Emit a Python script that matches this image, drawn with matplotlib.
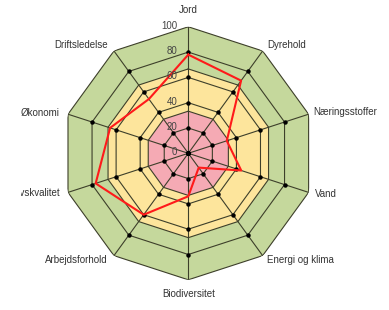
import numpy as np
import matplotlib
matplotlib.use("Agg")
import matplotlib.pyplot as plt
from matplotlib.transforms import Bbox, TransformedBbox

categories = ["Jord", "Dyrehold", "Næringsstoffer", "Vand", "Energi og klima",
              "Biodiversitet", "Arbejdsforhold", "Livskvalitet", "Økonomi", "Driftsledelse"]
values = [78, 71, 32, 44, 14, 34, 60, 77, 65, 53]
band_levels = [100, 66.7, 33.3]
band_colors = ["#c5d89c", "#fde59c", "#f5aab4"]
ring_levels = [20, 33.3, 40, 60, 66.7, 80, 100]
dot_levels = [0, 20, 40, 60, 80]
tick_values = [0, 20, 40, 60, 80, 100]

plt.rcParams['font.family'] = ['Liberation Sans', 'DejaVu Sans']

W, H = 389, 310
fig = plt.figure(figsize=(W / 100, H / 100), dpi=100)
cx, cy, R = 188.3, 153.3, 126.5
ax = fig.add_axes([(cx - R) / W, (H - cy - R) / H, 2 * R / W, 2 * R / H], projection='polar')
ax.set_theta_offset(np.pi / 2)
ax.set_theta_direction(-1)
ax.set_ylim(0, 100)
ax.grid(False)
ax.set_xticks([])
ax.set_yticks([])
ax.spines['polar'].set_visible(False)
ax.patch.set_alpha(0)

n = len(categories)
theta = np.arange(n) * 2 * np.pi / n
tc = np.append(theta, theta[0])

line_col = "#3d3f2a"
for lev, col in zip(band_levels, band_colors):
    ax.fill(tc, [lev] * (n + 1), color=col, zorder=1, lw=0)
for lev in ring_levels:
    ax.plot(tc, [lev] * (n + 1), color=line_col, lw=0.8, zorder=2)
for t in theta:
    ax.plot([t, t], [0, 100], color=line_col, lw=0.8, zorder=2)
for lev in dot_levels:
    ax.plot(theta, [lev] * n, 'o', color='black', ms=2.2, zorder=3, lw=0)

vc = np.append(values, values[0])
ax.plot(tc, vc, color='#ff1a1a', lw=1.5, zorder=4)

# the reference image cuts the left edge of the labels at about x = 21 px
clip = TransformedBbox(Bbox([[21 / W, 0], [1, 1]]), fig.transFigure)

offsets = [(0, 17, 'center'), (5, 6, 'left'), (4.5, 2, 'left'), (6, -2, 'left'),
           (4, -4, 'left'), (0, -14, 'center'), (-6, -4, 'right'), (-8, -1, 'right'),
           (-8, 1, 'right'), (-6, 6, 'right')]
for t, lab, (dx, dy, ha) in zip(theta, categories, offsets):
    a = ax.annotate(lab, xy=(t, 100), xytext=(dx, dy), textcoords='offset pixels',
                    ha=ha, va='center', fontsize=7, color='#333333', annotation_clip=False)
    a.set_clip_box(clip)
    a.set_clip_on(True)

for v in tick_values:
    ax.annotate(str(v), xy=(0, v), xytext=(-11, 1), textcoords='offset pixels',
                ha='right', va='center', fontsize=7, color='#444444', zorder=5,
                annotation_clip=False)

fig.savefig("out.png", dpi=100)
